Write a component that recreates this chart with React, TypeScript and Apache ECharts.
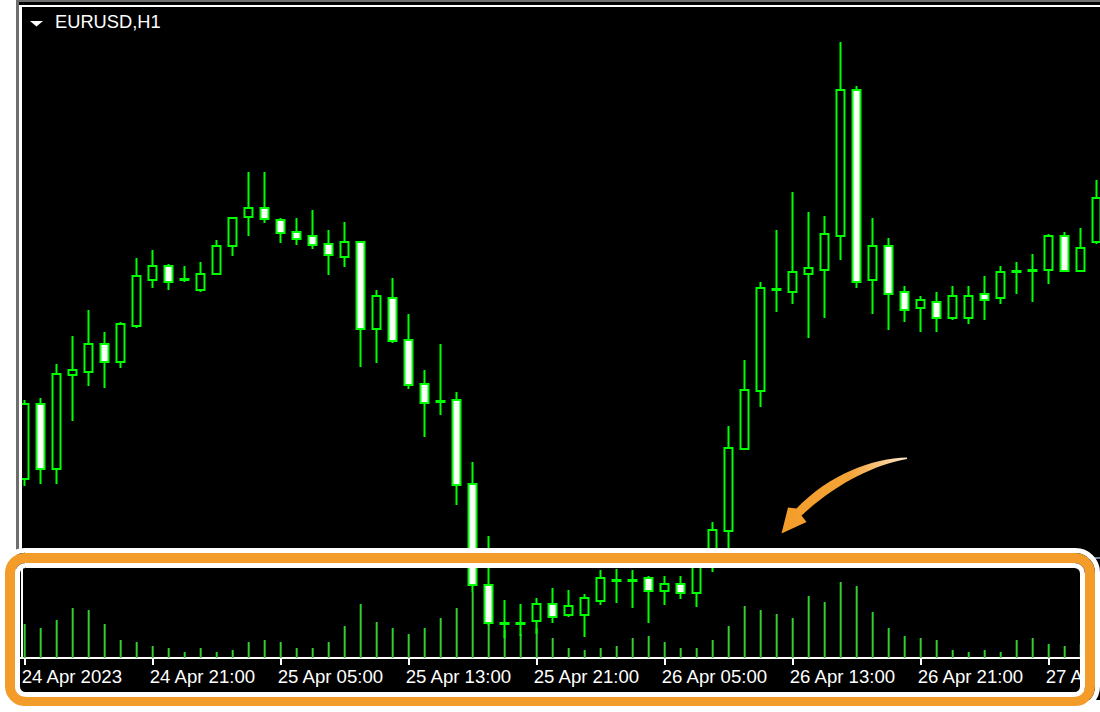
import React, { useEffect, useRef } from "react";
import * as echarts from "echarts";

// ---- data (EURUSD H1, 24–27 Apr 2023) ----
const MONTHS = ["Jan", "Feb", "Mar", "Apr", "May", "Jun", "Jul", "Aug", "Sep", "Oct", "Nov", "Dec"];
const categories: string[] = [];
for (let i = 0; i < 68; i++) {
  const d = new Date(Date.UTC(2023, 3, 24, 13 + i));
  categories.push(
    `${d.getUTCDate()} ${MONTHS[d.getUTCMonth()]} ${String(d.getUTCHours()).padStart(2, "0")}:00`
  );
}

const tickLabels = [
  "24 Apr 2023",
  "24 Apr 21:00",
  "25 Apr 05:00",
  "25 Apr 13:00",
  "25 Apr 21:00",
  "26 Apr 05:00",
  "26 Apr 13:00",
  "26 Apr 21:00",
  "27 Apr 05:00",
];

const open = [
  1.10158, 1.10308, 1.10178, 1.10366, 1.10372, 1.10428, 1.10392, 1.10464, 1.10556, 1.10584,
  1.10558, 1.10536, 1.10568, 1.10624, 1.10682, 1.107, 1.10676, 1.10652, 1.10644, 1.10628,
  1.10602, 1.10632, 1.10458, 1.1052, 1.10436, 1.10348, 1.10314, 1.10316, 1.10148, 1.09946,
  1.0987, 1.0987, 1.09874, 1.09908, 1.09886, 1.09886, 1.09914, 1.09956, 1.09956, 1.0996,
  1.09934, 1.09948, 1.0993, 1.09982, 1.10054, 1.10218, 1.10334, 1.10538, 1.10532, 1.10568,
  1.10576, 1.10644, 1.10936, 1.10556, 1.10624, 1.10532, 1.105, 1.10512, 1.1048, 1.1048,
  1.10528, 1.1052, 1.10574, 1.10576, 1.10576, 1.10644, 1.10574, 1.10632,
];
const close = [
  1.10308, 1.10178, 1.10368, 1.10376, 1.10428, 1.10392, 1.10468, 1.10564, 1.10584, 1.10552,
  1.10556, 1.10568, 1.10624, 1.1068, 1.107, 1.10678, 1.1065, 1.10638, 1.10626, 1.10606,
  1.10632, 1.10458, 1.10524, 1.10434, 1.10346, 1.1031, 1.10312, 1.10146, 1.09946, 1.0987,
  1.09868, 1.09868, 1.09908, 1.09882, 1.09904, 1.0992, 1.0996, 1.09954, 1.09954, 1.09934,
  1.09948, 1.0993, 1.09984, 1.10056, 1.1022, 1.10336, 1.1054, 1.10536, 1.10572, 1.1058,
  1.10648, 1.10936, 1.10552, 1.10624, 1.10528, 1.10496, 1.10516, 1.1048, 1.10524, 1.10524,
  1.10516, 1.10572, 1.10572, 1.10574, 1.10644, 1.10574, 1.1062, 1.1072,
];
const low = [
  1.10144, 1.10148, 1.10148, 1.10274, 1.10344, 1.1034, 1.1038, 1.1046, 1.1054, 1.10536,
  1.10552, 1.10532, 1.10568, 1.10604, 1.10644, 1.1067, 1.1063, 1.10626, 1.10618, 1.10566,
  1.10582, 1.10382, 1.1039, 1.1043, 1.10338, 1.10242, 1.10286, 1.10106, 1.09932, 1.09866,
  1.0984, 1.09844, 1.09848, 1.0987, 1.09882, 1.09842, 1.09906, 1.0991, 1.099, 1.0987,
  1.09906, 1.09918, 1.09902, 1.09972, 1.10018, 1.10216, 1.10302, 1.10492, 1.10508, 1.1044,
  1.1048, 1.10596, 1.1054, 1.10488, 1.10456, 1.10472, 1.10452, 1.10452, 1.10476, 1.10468,
  1.10476, 1.10508, 1.10528, 1.10512, 1.10548, 1.10574, 1.10574, 1.10628,
];
const high = [
  1.10316, 1.1032, 1.10388, 1.10444, 1.10496, 1.10452, 1.10472, 1.106, 1.10616, 1.10588,
  1.10584, 1.10592, 1.10636, 1.1068, 1.10772, 1.10772, 1.1068, 1.1068, 1.10696, 1.10656,
  1.10672, 1.10632, 1.10536, 1.1056, 1.10488, 1.10376, 1.10428, 1.10332, 1.10192, 1.10044,
  1.09916, 1.09908, 1.0992, 1.0994, 1.09936, 1.09928, 1.09976, 1.09978, 1.09976, 1.09964,
  1.09964, 1.09964, 1.09992, 1.10072, 1.10264, 1.10396, 1.10552, 1.10656, 1.10732, 1.10692,
  1.10684, 1.11032, 1.10944, 1.1068, 1.1064, 1.10544, 1.10524, 1.10532, 1.10544, 1.10544,
  1.10564, 1.10584, 1.10592, 1.10608, 1.10648, 1.10652, 1.1066, 1.10756,
];
const volume = [
  1700, 1500, 1900, 2500, 2400, 1700, 900, 800, 600, 500,
  300, 500, 300, 400, 800, 900, 800, 500, 500, 800,
  1600, 2700, 1800, 1500, 1200, 1500, 2000, 2500, 3300, 2100,
  1400, 1200, 1500, 1000, 500, 400, 500, 600, 1000, 1100,
  800, 500, 500, 900, 1600, 2600, 2400, 2200, 2000, 3100,
  2800, 3800, 3600, 2300, 1500, 1100, 1000, 900, 400, 300,
  400, 300, 900, 1000, 700, 600, 700, 900,
];
const bidPrice = 1.1035;

const ORANGE = "#F39C2A";
const FONT = '"Liberation Sans", Arial, sans-serif';

echarts.graphic.registerShape(
  "curvedArrow",
  echarts.graphic.extendPath(
    "M907 457.5 C872 458.5 830 474 796.5 508.5 L788 507.5 L781.5 533.5 L806.5 522 L801.5 515.5 C836 484 872 465.5 907 459 Z",
    {}
  ) as any
);

export default function App() {
  const ref = useRef<HTMLDivElement>(null);

  useEffect(() => {
    if (!ref.current) return;
    const chart = echarts.init(ref.current, undefined, { renderer: "svg" });
    const candles = open.map((o, i) => [o, close[i], low[i], high[i]]);

    const option: any = {
      animation: false,
      backgroundColor: "#000000",
      grid: [
        { left: 16.7, width: 1088, top: 8, height: 700, outerBoundsMode: "none", containLabel: false },
        { left: 16.7, width: 1088, top: 568, height: 90, outerBoundsMode: "none", containLabel: false },
      ],
      xAxis: [
        {
          type: "category",
          gridIndex: 0,
          data: categories,
          show: false,
          boundaryGap: true,
        },
        {
          type: "category",
          gridIndex: 1,
          data: categories,
          boundaryGap: true,
          axisLine: { show: true, lineStyle: { color: "#ffffff", width: 2 } },
          axisTick: {
            show: true,
            alignWithLabel: true,
            interval: (i: number) => i % 8 === 0,
            length: 7,
            lineStyle: { color: "#ffffff", width: 2 },
          },
          axisLabel: {
            show: true,
            interval: (i: number) => i % 8 === 0,
            formatter: (_v: string, i: number) => (i % 8 === 0 ? tickLabels[i / 8] : ""),
            align: "left",
            padding: [0, 0, 0, -3],
            margin: 9,
            color: "#ffffff",
            fontSize: 18.6,
            fontFamily: FONT,
            hideOverlap: false,
          },
          splitLine: { show: false },
        },
      ],
      yAxis: [
        {
          type: "value",
          gridIndex: 0,
          min: 1.097,
          max: 1.111,
          show: false,
          splitLine: { show: false },
        },
        {
          type: "value",
          gridIndex: 1,
          min: 0,
          max: 4500,
          show: false,
          splitLine: { show: false },
        },
      ],
      series: [
        {
          type: "bar",
          xAxisIndex: 1,
          yAxisIndex: 1,
          data: volume,
          barWidth: 2,
          itemStyle: { color: "#32CD32" },
          z: 2,
        },
        {
          type: "candlestick",
          xAxisIndex: 0,
          yAxisIndex: 0,
          data: candles,
          barWidth: 8,
          itemStyle: {
            color: "#000000",
            color0: "#ffffff",
            borderColor: "#00FF00",
            borderColor0: "#00FF00",
            borderColorDoji: "#00FF00",
            borderWidth: 2,
          },
          z: 3,
          markLine: {
            silent: true,
            symbol: ["none", "none"],
            label: { show: false },
            lineStyle: { color: "#778899", width: 2, type: "solid" },
            data: [{ yAxis: bidPrice }],
          },
        },
      ],
      graphic: {
        elements: [
          { type: "rect", z: 100, shape: { x: 0, y: 0, width: 16, height: 712 }, style: { fill: "#ffffff" } },
          { type: "rect", z: 100, shape: { x: 16, y: 0, width: 3, height: 560 }, style: { fill: "#6e6e6e" } },
          { type: "rect", z: 100, shape: { x: 16, y: 0, width: 1084, height: 2 }, style: { fill: "#6e6e6e" } },
          { type: "rect", z: 100, shape: { x: 19, y: 5, width: 3, height: 545 }, style: { fill: "#ffffff" } },
          { type: "rect", z: 100, shape: { x: 19, y: 5, width: 1081, height: 2 }, style: { fill: "#ffffff" } },
          { type: "rect", z: 100, shape: { x: 21, y: 568, width: 2, height: 90 }, style: { fill: "#ffffff" } },
          { type: "rect", z: 100, shape: { x: 0, y: 700, width: 1100, height: 12 }, style: { fill: "#ffffff" } },
          {
            type: "rect",
            z: 101,
            shape: { x: 2.5, y: 550.5, width: 1095, height: 158, r: 22 },
            style: { fill: "none", stroke: "#ffffff", lineWidth: 5 },
          },
          {
            type: "rect",
            z: 102,
            shape: { x: 10, y: 558, width: 1080, height: 143, r: 15 },
            style: { fill: "none", stroke: ORANGE, lineWidth: 10 },
          },
          {
            type: "rect",
            z: 103,
            shape: { x: 17.5, y: 565.5, width: 1065, height: 129, r: 8 },
            style: { fill: "none", stroke: "#ffffff", lineWidth: 5 },
          },
          {
            type: "curvedArrow",
            z: 104,
            x: 0,
            y: 0,
            style: {
              fill: new echarts.graphic.LinearGradient(0, 0, 1, 0, [
                { offset: 0, color: ORANGE },
                { offset: 0.55, color: "#F4A437" },
                { offset: 1, color: "#FBE6C8" },
              ]),
            },
          },
          {
            type: "polygon",
            z: 104,
            shape: { points: [[30, 21], [43, 21], [36.5, 26.5]] },
            style: { fill: "#ffffff" },
          },
          {
            type: "text",
            z: 104,
            x: 55,
            y: 12.5,
            style: {
              text: "EURUSD,H1",
              fill: "#ffffff",
              font: `18.3px ${FONT}`,
              verticalAlign: "top",
            },
          },
        ],
      },
    };

    chart.setOption(option);
    return () => chart.dispose();
  }, []);

  return (
    <div
      ref={ref}
      style={{ position: "absolute", left: 0, top: 0, width: 1100, height: 712 }}
    />
  );
}
